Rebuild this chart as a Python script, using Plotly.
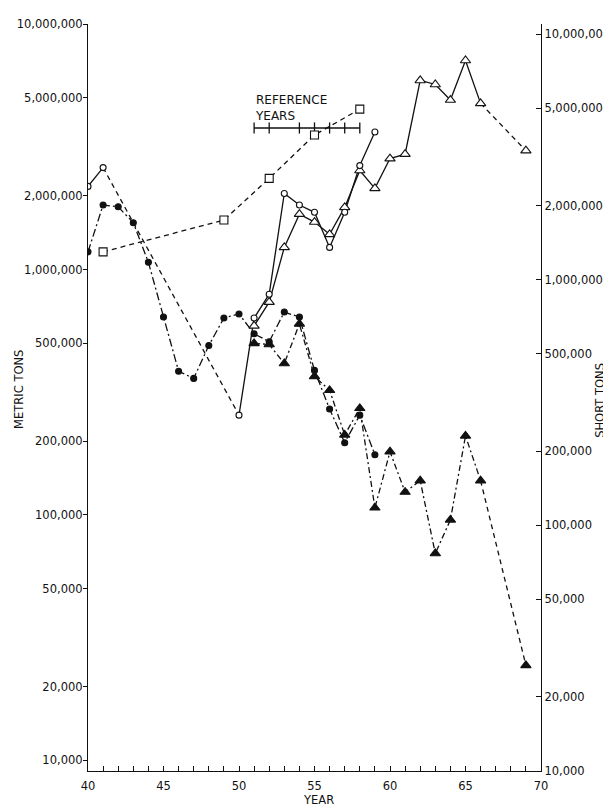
import math
import plotly.graph_objects as go

# ---------------- data (metric tons) ----------------
years_open_circle = [40, 41, 50, 51, 52, 53, 54, 55, 56, 57, 58, 59]
open_circle = [2180000, 2600000, 255000, 634000, 793000, 2040000, 1830000,
               1710000, 1230000, 1710000, 2650000, 3630000]

years_open_tri = [51, 52, 53, 54, 55, 56, 57, 58, 59, 60, 61, 62, 63, 64, 65, 66, 69]
open_tri = [589000, 736000, 1230000, 1680000, 1560000, 1390000, 1790000, 2530000,
            2140000, 2830000, 2950000, 5890000, 5670000, 4900000, 7100000, 4750000,
            3050000]

years_square = [41, 49, 52, 55, 58]
square = [1180000, 1590000, 2350000, 3530000, 4500000]

years_filled_circle = list(range(40, 60))
filled_circle = [1180000, 1830000, 1800000, 1550000, 1070000, 640000, 385000, 360000,
                 490000, 634000, 659000, 547000, 508000, 671000, 640000, 388000,
                 270000, 197000, 255000, 176000]

years_filled_tri = [51, 52, 53, 54, 55, 56, 57, 58, 59, 60, 61, 62, 63, 64, 65, 66, 69]
filled_tri = [500000, 495000, 414000, 600000, 367000, 322000, 212000, 272000, 107000,
              181000, 124000, 138000, 69700, 95500, 210000, 138000, 24400]

ref_years = [51, 52, 54, 55, 56, 57, 58]
ref_level = 3770000

y_tickvals = [10000, 20000, 50000, 100000, 200000, 500000, 1000000, 2000000, 5000000, 10000000]
y_ticktext = ["10,000", "20,000", "50,000", "100,000", "200,000", "500,000",
              "1,000,000", "2,000,000", "5,000,000", "10,000,000"]
x_tickvals = [40, 45, 50, 55, 60, 65, 70]

SHORT_PER_METRIC = 1.10231

# ---------------- figure ----------------
FONT = "DejaVu Sans"
INK = "#111111"
LW = 1.3

fig = go.Figure()


def line(xs, ys, dash, width=LW):
    fig.add_trace(go.Scatter(x=xs, y=ys, mode="lines",
                             line=dict(color=INK, width=width, dash=dash),
                             hoverinfo="skip", showlegend=False))


def markers(xs, ys, symbol, size, fill):
    fig.add_trace(go.Scatter(x=xs, y=ys, mode="markers",
                             marker=dict(symbol=symbol, size=size, color=fill,
                                         line=dict(color=INK, width=1.1)),
                             hoverinfo="skip", showlegend=False))


DASH = "5px,4px"
DASHDOT_D = "8px,3px,2px,3px"
DASHDOT_E = "6px,3px,2px,3px"

# open circles: solid 40-41, dashed 41-50, solid 50-59
line(years_open_circle[0:2], open_circle[0:2], "solid")
line(years_open_circle[1:3], open_circle[1:3], DASH)
line(years_open_circle[2:], open_circle[2:], "solid")

# open triangles: solid to 66, dashed 66-69
line(years_open_tri[:-1], open_tri[:-1], "solid")
line(years_open_tri[-2:], open_tri[-2:], DASH)

# squares dashed
line(years_square, square, DASH)

# filled circles dash-dot
line(years_filled_circle, filled_circle, DASHDOT_D)

# filled triangles dash-dot to 66, dashed 66-69
line(years_filled_tri[:-1], filled_tri[:-1], DASHDOT_E)
line(years_filled_tri[-2:], filled_tri[-2:], DASH)

# reference years bar
fig.add_trace(go.Scatter(x=[ref_years[0], ref_years[-1]], y=[ref_level, ref_level],
                         mode="lines", line=dict(color=INK, width=1.3),
                         hoverinfo="skip", showlegend=False))
fig.add_trace(go.Scatter(x=ref_years, y=[ref_level] * len(ref_years), mode="markers",
                         marker=dict(symbol="line-ns", size=8,
                                     line=dict(color=INK, width=1.3)),
                         hoverinfo="skip", showlegend=False))

# markers on top
markers(years_square, square, "square", 8, "white")
markers(years_filled_circle, filled_circle, "circle", 6, INK)
markers(years_filled_tri, filled_tri, "triangle-up", 9, INK)
markers(years_open_tri, open_tri, "triangle-up", 9, "white")
markers(years_open_circle, open_circle, "circle", 6, "white")

# binding trace for the short-ton axis
fig.add_trace(go.Scatter(x=years_filled_tri, y=[v * SHORT_PER_METRIC for v in filled_tri],
                         yaxis="y2", mode="lines", line=dict(width=0),
                         opacity=0, hoverinfo="skip", showlegend=False))

y_bottom = 3.957
y_top = 7.0
off = math.log10(SHORT_PER_METRIC)

tickfont = dict(family=FONT, size=11.5, color=INK)

# page body has an 8px margin: margins below are offset to compensate
fig.update_layout(
    width=611, height=808,
    margin=dict(l=78, r=76, t=9, b=45, pad=0),
    paper_bgcolor="white", plot_bgcolor="white",
    showlegend=False,
    font=dict(family=FONT, size=11.5, color=INK),
    xaxis=dict(range=[40, 70], tickvals=x_tickvals, ticktext=[str(v) for v in x_tickvals],
               showgrid=False, zeroline=False, showline=True, linecolor=INK, linewidth=1.2,
               ticks="inside", ticklen=5, tickwidth=1, tickcolor=INK, tickfont=tickfont,
               ticklabelstandoff=4,
               minor=dict(dtick=1, tick0=40, ticks="inside", ticklen=5, tickwidth=1,
                          tickcolor=INK, showgrid=False)),
    yaxis=dict(type="log", range=[y_bottom, y_top], tickvals=y_tickvals, ticktext=y_ticktext,
               showgrid=False, zeroline=False, showline=True, linecolor=INK, linewidth=1.2,
               ticks="outside", ticklen=4, tickwidth=1, tickcolor=INK, tickfont=tickfont,
               ticklabelstandoff=-2),
    yaxis2=dict(type="log", range=[y_bottom + off, y_top + off], overlaying="y", side="right",
                tickvals=y_tickvals, ticktext=y_ticktext,
                showgrid=False, zeroline=False, showline=True, linecolor=INK, linewidth=1.2,
                ticks="inside", ticklen=5, tickwidth=1, tickcolor=INK, tickfont=tickfont),
    annotations=[
        dict(text="REFERENCE<br>YEARS", x=ref_years[0] - 0.05, y=6.657, xref="x", yref="y",
             xanchor="left", yanchor="middle", align="left", showarrow=False,
             font=dict(family=FONT, size=12, color=INK)),
        dict(text="METRIC TONS", x=-0.151, y=0.511, xref="paper", yref="paper",
             textangle=-90, showarrow=False, xanchor="center", yanchor="middle",
             font=dict(family=FONT, size=11.5, color=INK)),
        dict(text="SHORT TONS", x=1.131, y=0.496, xref="paper", yref="paper",
             textangle=-90, showarrow=False, xanchor="center", yanchor="middle",
             font=dict(family=FONT, size=11.5, color=INK)),
        dict(text="YEAR", x=0.508, y=-0.039, xref="paper", yref="paper",
             showarrow=False, xanchor="center", yanchor="middle",
             font=dict(family=FONT, size=11.5, color=INK)),
    ],
)

fig.write_html("out.html")
